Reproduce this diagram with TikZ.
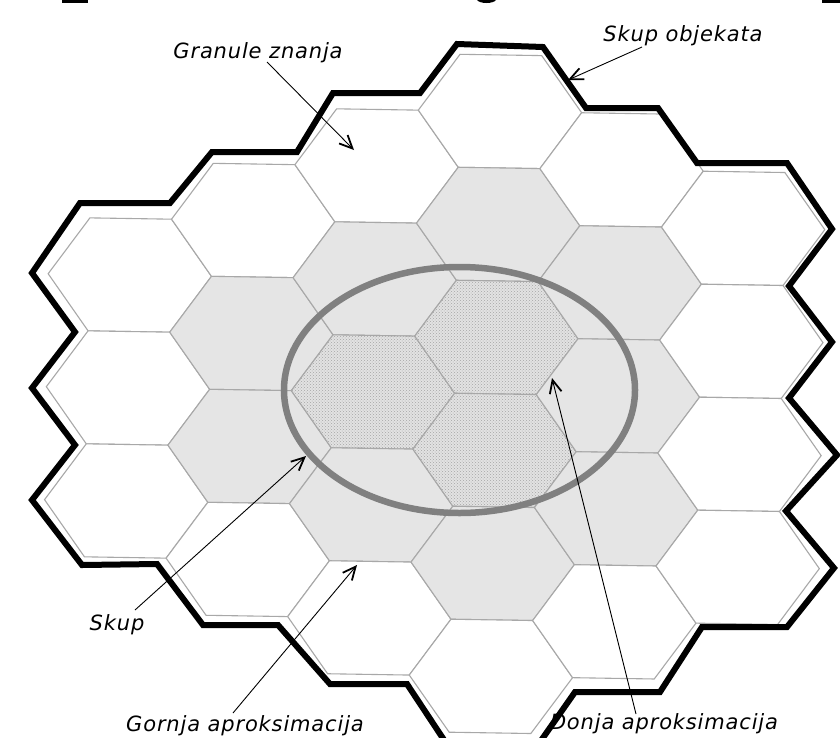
\documentclass[tikz,border=0pt]{standalone}
\usepackage{fontspec}
\setmainfont{DejaVu Sans}
\usetikzlibrary{arrows.meta,patterns}
\definecolor{hexgray}{HTML}{A8A8A8}
\definecolor{lightfill}{HTML}{E5E5E5}
\definecolor{dotbase}{HTML}{E2E2E2}
\definecolor{dotcol}{HTML}{A6A6A6}
\definecolor{ellgray}{HTML}{808080}
\newcommand\hexcell[3]{%
  \path[#3] ({#1+81.67},{#2}) -- ({#1+40.83},{#2+56.5}) -- ({#1-40.83},{#2+56.5})
    -- ({#1-81.67},{#2}) -- ({#1-40.83},{#2-56.5}) -- ({#1+40.83},{#2-56.5}) -- cycle;}
\tikzset{
  hexline/.style={draw=hexgray, line width=1.1pt, line join=miter},
  whitehex/.style={hexline, fill=white},
  grayhex/.style={hexline, fill=lightfill},
  dothex/.style={hexline, fill=dotbase, postaction={pattern=crosshatch dots, pattern color=dotcol}},
  borderline/.style={draw=black, line width=6pt, line join=miter},
  setline/.style={draw=ellgray, line width=6.5pt},
  lbl/.style={font=\fontsize{21}{25}\selectfont\itshape\addfontfeatures{LetterSpace=4}, inner sep=0pt, anchor=base},
  pointer/.style={draw=black, line width=0.9pt, -{Straight Barb[length=13pt,width=12pt,line width=1.8pt]}}
}
\begin{document}
\begin{tikzpicture}[x=1pt,y=-1pt]
\useasboundingbox (0,0) rectangle (840,737);
\begin{scope}
\clip (0,0) rectangle (840,737);
% cut-off marks at the top edge
\fill[black] (62,0) rectangle (88,3);
\fill[black] (477,0) .. controls (480,4) and (493,4) .. (496,0) -- cycle;
\fill[black] (822,0) rectangle (840,3);
% granules
\begin{scope}[rotate around={-0.92:(128,388)}]
  % column 1
  \hexcell{128}{275}{whitehex}
  \hexcell{128}{388}{whitehex}
  \hexcell{128}{501}{whitehex}
  % column 2
  \hexcell{250.5}{218.5}{whitehex}
  \hexcell{250.5}{331.5}{grayhex}
  \hexcell{250.5}{444.5}{grayhex}
  \hexcell{250.5}{557.5}{whitehex}
  % column 3
  \hexcell{373}{162}{whitehex}
  \hexcell{373}{275}{grayhex}
  \hexcell{373}{388}{dothex}
  \hexcell{373}{501}{grayhex}
  \hexcell{373}{614}{whitehex}
  % column 4
  \hexcell{495.5}{105.5}{whitehex}
  \hexcell{495.5}{218.5}{grayhex}
  \hexcell{495.5}{331.5}{dothex}
  \hexcell{495.5}{444.5}{dothex}
  \hexcell{495.5}{557.5}{grayhex}
  \hexcell{495.5}{670.5}{whitehex}
  % column 5
  \hexcell{618}{162}{whitehex}
  \hexcell{618}{275}{grayhex}
  \hexcell{618}{388}{grayhex}
  \hexcell{618}{501}{grayhex}
  \hexcell{618}{614}{whitehex}
  % column 6
  \hexcell{740.5}{218.5}{whitehex}
  \hexcell{740.5}{331.5}{whitehex}
  \hexcell{740.5}{444.5}{whitehex}
  \hexcell{740.5}{557.5}{whitehex}
\end{scope}
% universe outline
\draw[borderline] (457,44) -- (543,47) -- (586,108) -- (658,108) -- (697,163) -- (787,163)
  -- (832,229) -- (789,286) -- (832,342) -- (789,398) -- (837,455) -- (786,511)
  -- (834,568) -- (787,627) -- (702,627) -- (660,692) -- (575,692) -- (533,752)
  -- (452,752) -- (407,684) -- (330,684) -- (278,625) -- (203,625) -- (157,564)
  -- (82,565) -- (32,500) -- (75,445) -- (32,388) -- (75,332) -- (32,273)
  -- (80,203) -- (170,203) -- (212,152) -- (297,152) -- (333,93) -- (420,93) -- cycle;
% the set
\draw[setline] (459.5,390) ellipse [x radius=175.5, y radius=123];
\end{scope}
% labels
\node[lbl] (gran) at (258,58) {Granule znanja};
\node[lbl] (skob) at (683,41) {Skup objekata};
\node[lbl] (skup) at (117,630) {Skup};
\node[lbl] (gorn) at (245,731) {Gornja aproksimacija};
\node[lbl] (donj) at (664,729) {Donja aproksimacija};
% pointer ends
\coordinate (granS) at (267,62);   \coordinate (granT) at (354,150);
\coordinate (skobS) at (642,47);   \coordinate (skobT) at (568,80);
\coordinate (skupS) at (135,610);  \coordinate (skupT) at (306,456);
\coordinate (gornS) at (233,713);  \coordinate (gornT) at (357,565);
\coordinate (donjS) at (636,714);  \coordinate (donjT) at (552,378);
\draw[pointer] (granS) -- (granT);
\draw[pointer] (skobS) -- (skobT);
\draw[pointer] (skupS) -- (skupT);
\draw[pointer] (gornS) -- (gornT);
\draw[pointer] (donjS) -- (donjT);
\end{tikzpicture}
\end{document}
